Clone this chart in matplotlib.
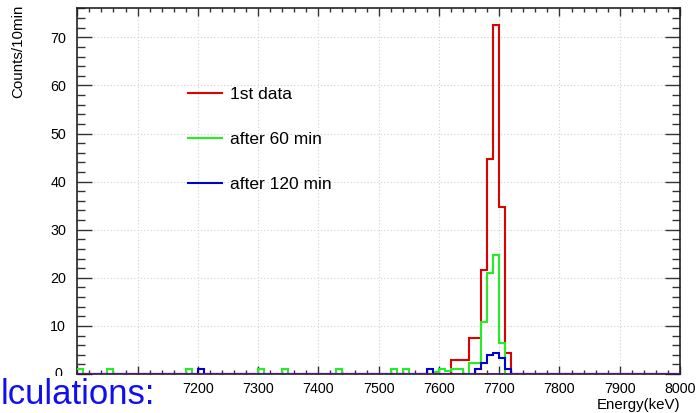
import numpy as np
import matplotlib
matplotlib.use("Agg")
import matplotlib.pyplot as plt
from matplotlib.ticker import MultipleLocator, FuncFormatter
from matplotlib.lines import Line2D
from matplotlib.transforms import Bbox

plt.rcParams['font.family'] = ['Liberation Sans', 'DejaVu Sans']

# Histogram binning: 10 keV bins from 7000 to 8000 keV
bin_lo, bin_hi, bin_w = 7000, 8000, 10

# Non-empty bins (lower bin edge, keV) and their counts per 10 min
first_bins   = [7620, 7630, 7640, 7650, 7660, 7670, 7680, 7690, 7700, 7710]
first_counts = [3.0, 3.0, 3.0, 7.5, 7.5, 21.7, 44.7, 72.5, 34.7, 4.3]

after60_bins   = [7000, 7050, 7180, 7300, 7340, 7430, 7520, 7540, 7590, 7600,
                  7610, 7620, 7630, 7650, 7660, 7670, 7680, 7690, 7700]
after60_counts = [1.0, 1.0, 1.0, 1.0, 1.0, 1.0, 1.0, 1.0, 0.5, 1.0,
                  0.7, 1.0, 1.0, 2.3, 2.3, 10.8, 21.0, 24.8, 6.4]

after120_bins   = [7200, 7580, 7660, 7670, 7680, 7690, 7700, 7710]
after120_counts = [1.0, 1.0, 1.0, 2.2, 3.9, 4.3, 3.4, 1.0]

series_labels = ["1st data", "after 60 min", "after 120 min"]
series_colors = ["#e00000", "#22ee22", "#0000d0"]

edges = np.arange(bin_lo, bin_hi + bin_w, bin_w)


def fill_hist(bins, counts):
    vals = np.zeros(len(edges) - 1)
    for b, c in zip(bins, counts):
        vals[(b - bin_lo) // bin_w] = c
    return vals


hists = [fill_hist(first_bins, first_counts),
         fill_hist(after60_bins, after60_counts),
         fill_hist(after120_bins, after120_counts)]

W, H = 696, 413
fig = plt.figure(figsize=(W / 100, H / 100), dpi=100)
ax = fig.add_axes([77.3 / W, 1 - 374 / H, (680 - 77.3) / W, (374 - 8) / H])

for vals, col in zip(hists, series_colors):
    ax.stairs(vals, edges, color=col, lw=1.5, baseline=None, zorder=3)

# zero line where the three outlines overlap
ax.axhline(0, color="#6a1085", lw=2.0, zorder=4)

ax.set_xlim(bin_lo, bin_hi)
ax.set_ylim(0, 76.1)

ax.xaxis.set_major_locator(MultipleLocator(100))
ax.xaxis.set_minor_locator(MultipleLocator(20))
ax.yaxis.set_major_locator(MultipleLocator(10))
ax.yaxis.set_minor_locator(MultipleLocator(2))

# the caption box covers the first x labels and the lower half of the y "0"
hidden_x = {7000, 7100}
ax.xaxis.set_major_formatter(FuncFormatter(
    lambda v, p: "" if round(v) in hidden_x else f"{v:.0f}"))
ax.yaxis.set_major_formatter(FuncFormatter(
    lambda v, p: "" if round(v) == 0 else f"{v:.0f}"))

ax.tick_params(axis="both", which="both", direction="in", top=True, right=True,
               colors="#333333", labelcolor="black", labelsize=10.3, width=1.0)
ax.tick_params(axis="y", which="major", length=11, pad=8)
ax.tick_params(axis="y", which="minor", length=5.5)
ax.tick_params(axis="x", which="major", length=6, pad=6)
ax.tick_params(axis="x", which="minor", length=3)

ax.grid(True, which="major", color="#cfcfcf", ls=(0, (1, 2)), lw=0.8)
ax.set_axisbelow(True)
for sp in ax.spines.values():
    sp.set_color("#222222")
    sp.set_linewidth(1.2)

fig.text(680 / W, 1 - 405 / H, "Energy(keV)", ha="right", va="center", fontsize=10.8)
fig.text(18 / W, 1 - 5 / H, "Counts/10min", ha="center", va="top",
         rotation=90, fontsize=10.9)

# y label "0", only its upper part shows above the caption box
zero_lbl = fig.text(62 / W, 1 - 374 / H, "0", ha="right", va="center", fontsize=10.3)
zero_lbl.set_clip_box(Bbox.from_extents(0, H - 376, W, H))
zero_lbl.set_clip_on(True)

handles = [Line2D([], [], color=c, lw=1.5) for c in series_colors]
fig.legend(handles, series_labels, loc="upper left",
           bbox_to_anchor=(188 / W, 1 - 86.5 / H), frameon=False,
           fontsize=12.5, handlelength=1.95, handletextpad=0.46,
           labelspacing=1.72, borderpad=0, borderaxespad=0)

# slide caption overlapping the lower-left corner
fig.patches.append(plt.Rectangle((0, 0), 152 / W, 1 - 376 / H,
                                 transform=fig.transFigure, facecolor="white",
                                 edgecolor="none", zorder=5))
fig.text(1 / W, 1 - 395 / H, "lculations:", ha="left", va="center",
         fontsize=25, color="#1010ee", zorder=6)

fig.savefig("out.png", dpi=100)
